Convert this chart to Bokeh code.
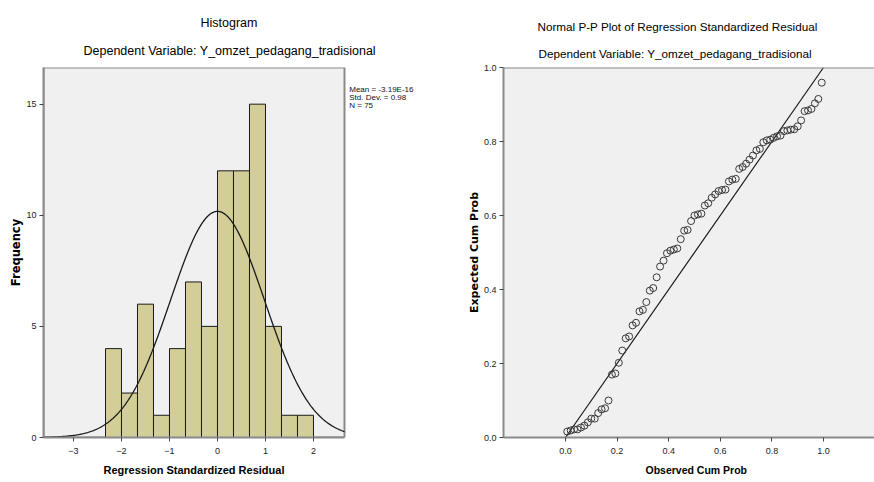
import numpy as np
from bokeh.plotting import figure
from bokeh.layouts import row
from bokeh.models import FixedTicker, Range1d, Span, NumeralTickFormatter, Title
from bokeh.core.properties import value
from bokeh.embed import file_html
from bokeh.resources import INLINE

# ---------------- data ----------------
BIN_EDGES = [-2.3333, -2.0, -1.6667, -1.3333, -1.0, -0.6667, -0.3333, 0.0,
             0.3333, 0.6667, 1.0, 1.3333, 1.6667, 2.0]
FREQ = [4, 2, 6, 1, 4, 7, 5, 12, 12, 15, 5, 1, 1]
MEAN = -3.19e-16
STD_DEV = 0.98
N_OBS = 75
HIST_X_TICKS = [-3, -2, -1, 0, 1, 2]
HIST_Y_TICKS = [0, 5, 10, 15]
STATS_LINES = ["Mean = -3.19E-16", "Std. Dev. = 0.98", "N = 75"]

OBS_CUM_PROB = [0.0067, 0.0200, 0.0333, 0.0467, 0.0600, 0.0733, 0.0867, 0.1000, 0.1133, 0.1267,
                0.1400, 0.1533, 0.1667, 0.1800, 0.1933, 0.2067, 0.2200, 0.2333, 0.2467, 0.2600,
                0.2733, 0.2867, 0.3000, 0.3133, 0.3267, 0.3400, 0.3533, 0.3667, 0.3800, 0.3933,
                0.4067, 0.4200, 0.4333, 0.4467, 0.4600, 0.4733, 0.4867, 0.5000, 0.5133, 0.5267,
                0.5400, 0.5533, 0.5667, 0.5800, 0.5933, 0.6067, 0.6200, 0.6333, 0.6467, 0.6600,
                0.6733, 0.6867, 0.7000, 0.7133, 0.7267, 0.7400, 0.7533, 0.7667, 0.7800, 0.7933,
                0.8067, 0.8200, 0.8333, 0.8467, 0.8600, 0.8733, 0.8867, 0.9000, 0.9133, 0.9267,
                0.9400, 0.9533, 0.9667, 0.9800, 0.9933]
EXP_CUM_PROB = [0.016, 0.019, 0.022, 0.022, 0.027, 0.032, 0.041, 0.051, 0.051, 0.066,
                0.076, 0.079, 0.100, 0.170, 0.173, 0.202, 0.235, 0.268, 0.273, 0.303,
                0.310, 0.341, 0.345, 0.366, 0.397, 0.404, 0.433, 0.462, 0.478, 0.498,
                0.505, 0.508, 0.511, 0.536, 0.559, 0.561, 0.585, 0.600, 0.603, 0.605,
                0.627, 0.633, 0.648, 0.657, 0.666, 0.669, 0.670, 0.692, 0.697, 0.699,
                0.726, 0.731, 0.740, 0.751, 0.762, 0.776, 0.780, 0.798, 0.803, 0.805,
                0.810, 0.814, 0.816, 0.828, 0.830, 0.832, 0.833, 0.841, 0.857, 0.882,
                0.884, 0.888, 0.903, 0.915, 0.959]
PP_TICKS = [0.0, 0.2, 0.4, 0.6, 0.8, 1.0]
DIAG = [0.0, 1.0]

TITLE_HIST = "Histogram"
SUBTITLE = "Dependent Variable: Y_omzet_pedagang_tradisional"
TITLE_PP = "Normal P-P Plot of Regression Standardized Residual"
XLABEL_HIST = "Regression Standardized Residual"
YLABEL_HIST = "Frequency"
XLABEL_PP = "Observed Cum Prob"
YLABEL_PP = "Expected Cum Prob"

# ---------------- styling ----------------
BG = "#f0f0f0"
FRAME = "#8a8a8a"
BAR = "#d3ce97"
FONT = "Liberation Sans"

# histogram plotting area (data units)
H_XMIN, H_XMAX, H_YMAX = -3.625, 2.646, 16.65
H_CANVAS_XMAX = 4.646   # canvas area to the right of the plot (holds the statistics)


def style_axes(p):
    for ax in (p.xaxis[0], p.yaxis[0]):
        ax.axis_line_color = FRAME
        ax.axis_line_width = 2
        ax.major_tick_line_color = "#444444"
        ax.major_tick_in = 0
        ax.major_tick_out = 4
        ax.minor_tick_line_color = None
        ax.major_label_text_font = FONT
        ax.major_label_text_font_size = "9px"
        ax.major_label_text_color = "#222222"
    p.xaxis[0].major_label_standoff = 6
    p.yaxis[0].major_label_standoff = 3
    p.yaxis[0].axis_label_text_font = "DejaVu Sans"
    p.yaxis[0].axis_label_text_font_style = "bold"
    p.yaxis[0].axis_label_text_color = "#000000"
    p.yaxis[0].axis_label_text_font_size = "11.5px"
    p.yaxis[0].axis_label_standoff = 0
    p.xgrid.visible = False
    p.ygrid.visible = False


def add_titles(p, main, sub, size, off_main, off_sub, st_main, st_sub):
    p.add_layout(Title(text=sub, align="left", offset=off_sub, standoff=st_sub,
                       vertical_align="bottom", text_font=FONT, text_font_size=size,
                       text_font_style="normal", text_color="#000000"), "above")
    p.add_layout(Title(text=main, align="left", offset=off_main, standoff=st_main,
                       vertical_align="bottom", text_font=FONT, text_font_size=size,
                       text_font_style="normal", text_color="#000000"), "above")


def add_xlabel(p, text, size, offset):
    p.add_layout(Title(text=text, align="left", offset=offset, standoff=10,
                       vertical_align="bottom", text_font=FONT, text_font_size=size,
                       text_font_style="bold", text_color="#000000"), "below")


# ---------------- histogram ----------------
bin_w = BIN_EDGES[1] - BIN_EDGES[0]
p1 = figure(width=440, height=482, output_backend="svg", toolbar_location=None, title=None,
            x_range=Range1d(H_XMIN, H_CANVAS_XMAX), y_range=Range1d(0, H_YMAX),
            min_border_left=43, min_border_right=0, min_border_top=63, min_border_bottom=45,
            background_fill_color="white", border_fill_color="white")
p1.outline_line_color = None
# grey plotting area with its border
p1.quad(left=[H_XMIN], right=[H_XMAX], bottom=[0], top=[H_YMAX],
        fill_color=BG, line_color=FRAME, line_width=2)
p1.quad(left=BIN_EDGES[:-1], right=BIN_EDGES[1:], top=FREQ, bottom=0,
        fill_color=BAR, line_color="#1a1a1a", line_width=1)
xs = np.linspace(H_XMIN, H_XMAX, 400)
ys = N_OBS * bin_w * np.exp(-0.5 * ((xs - MEAN) / STD_DEV) ** 2) / (STD_DEV * np.sqrt(2 * np.pi))
p1.line(xs, ys, line_color="#1a1a1a", line_width=1.3)
p1.xaxis.ticker = FixedTicker(ticks=HIST_X_TICKS)
p1.yaxis.ticker = FixedTicker(ticks=HIST_Y_TICKS)
p1.xaxis.bounds = (H_XMIN, H_XMAX)
p1.yaxis.axis_label = YLABEL_HIST
style_axes(p1)
add_titles(p1, TITLE_HIST, SUBTITLE, "12.5px", 157, 40, 4, 20)
add_xlabel(p1, XLABEL_HIST, "11px", 60)

p1.text(x=[2.745] * 3, y=[15.64, 15.28, 14.92], text=STATS_LINES,
        text_font=value(FONT), text_font_size="8px", text_baseline="middle",
        text_align="left", text_color="#111111")

# ---------------- P-P plot ----------------
p2 = figure(width=434, height=482, output_backend="svg", toolbar_location=None, title=None,
            x_range=Range1d(-0.2403, 1.1977), y_range=Range1d(0, 1.0),
            min_border_left=63, min_border_right=0, min_border_top=67, min_border_bottom=45,
            background_fill_color=BG, border_fill_color="white")
p2.outline_line_color = None
p2.add_layout(Span(location=1.0, dimension="width", line_color=FRAME, line_width=2))
p2.line(DIAG, DIAG, line_color="#1a1a1a", line_width=1.2)
p2.scatter(OBS_CUM_PROB, EXP_CUM_PROB, marker="circle", size=7, fill_color=None,
           line_color="#3a3a3a", line_width=1)
p2.xaxis.ticker = FixedTicker(ticks=PP_TICKS)
p2.yaxis.ticker = FixedTicker(ticks=PP_TICKS)
p2.xaxis.formatter = NumeralTickFormatter(format="0.0")
p2.yaxis.formatter = NumeralTickFormatter(format="0.0")
p2.yaxis.axis_label = YLABEL_PP
style_axes(p2)
p2.yaxis[0].axis_label_text_font_size = "11px"
add_titles(p2, TITLE_PP, SUBTITLE, "11.7px", 34, 35, 10, 15)
add_xlabel(p2, XLABEL_PP, "10.5px", 142)

layout = row(p1, p2)
open("out.html", "w").write(file_html(layout, INLINE))
